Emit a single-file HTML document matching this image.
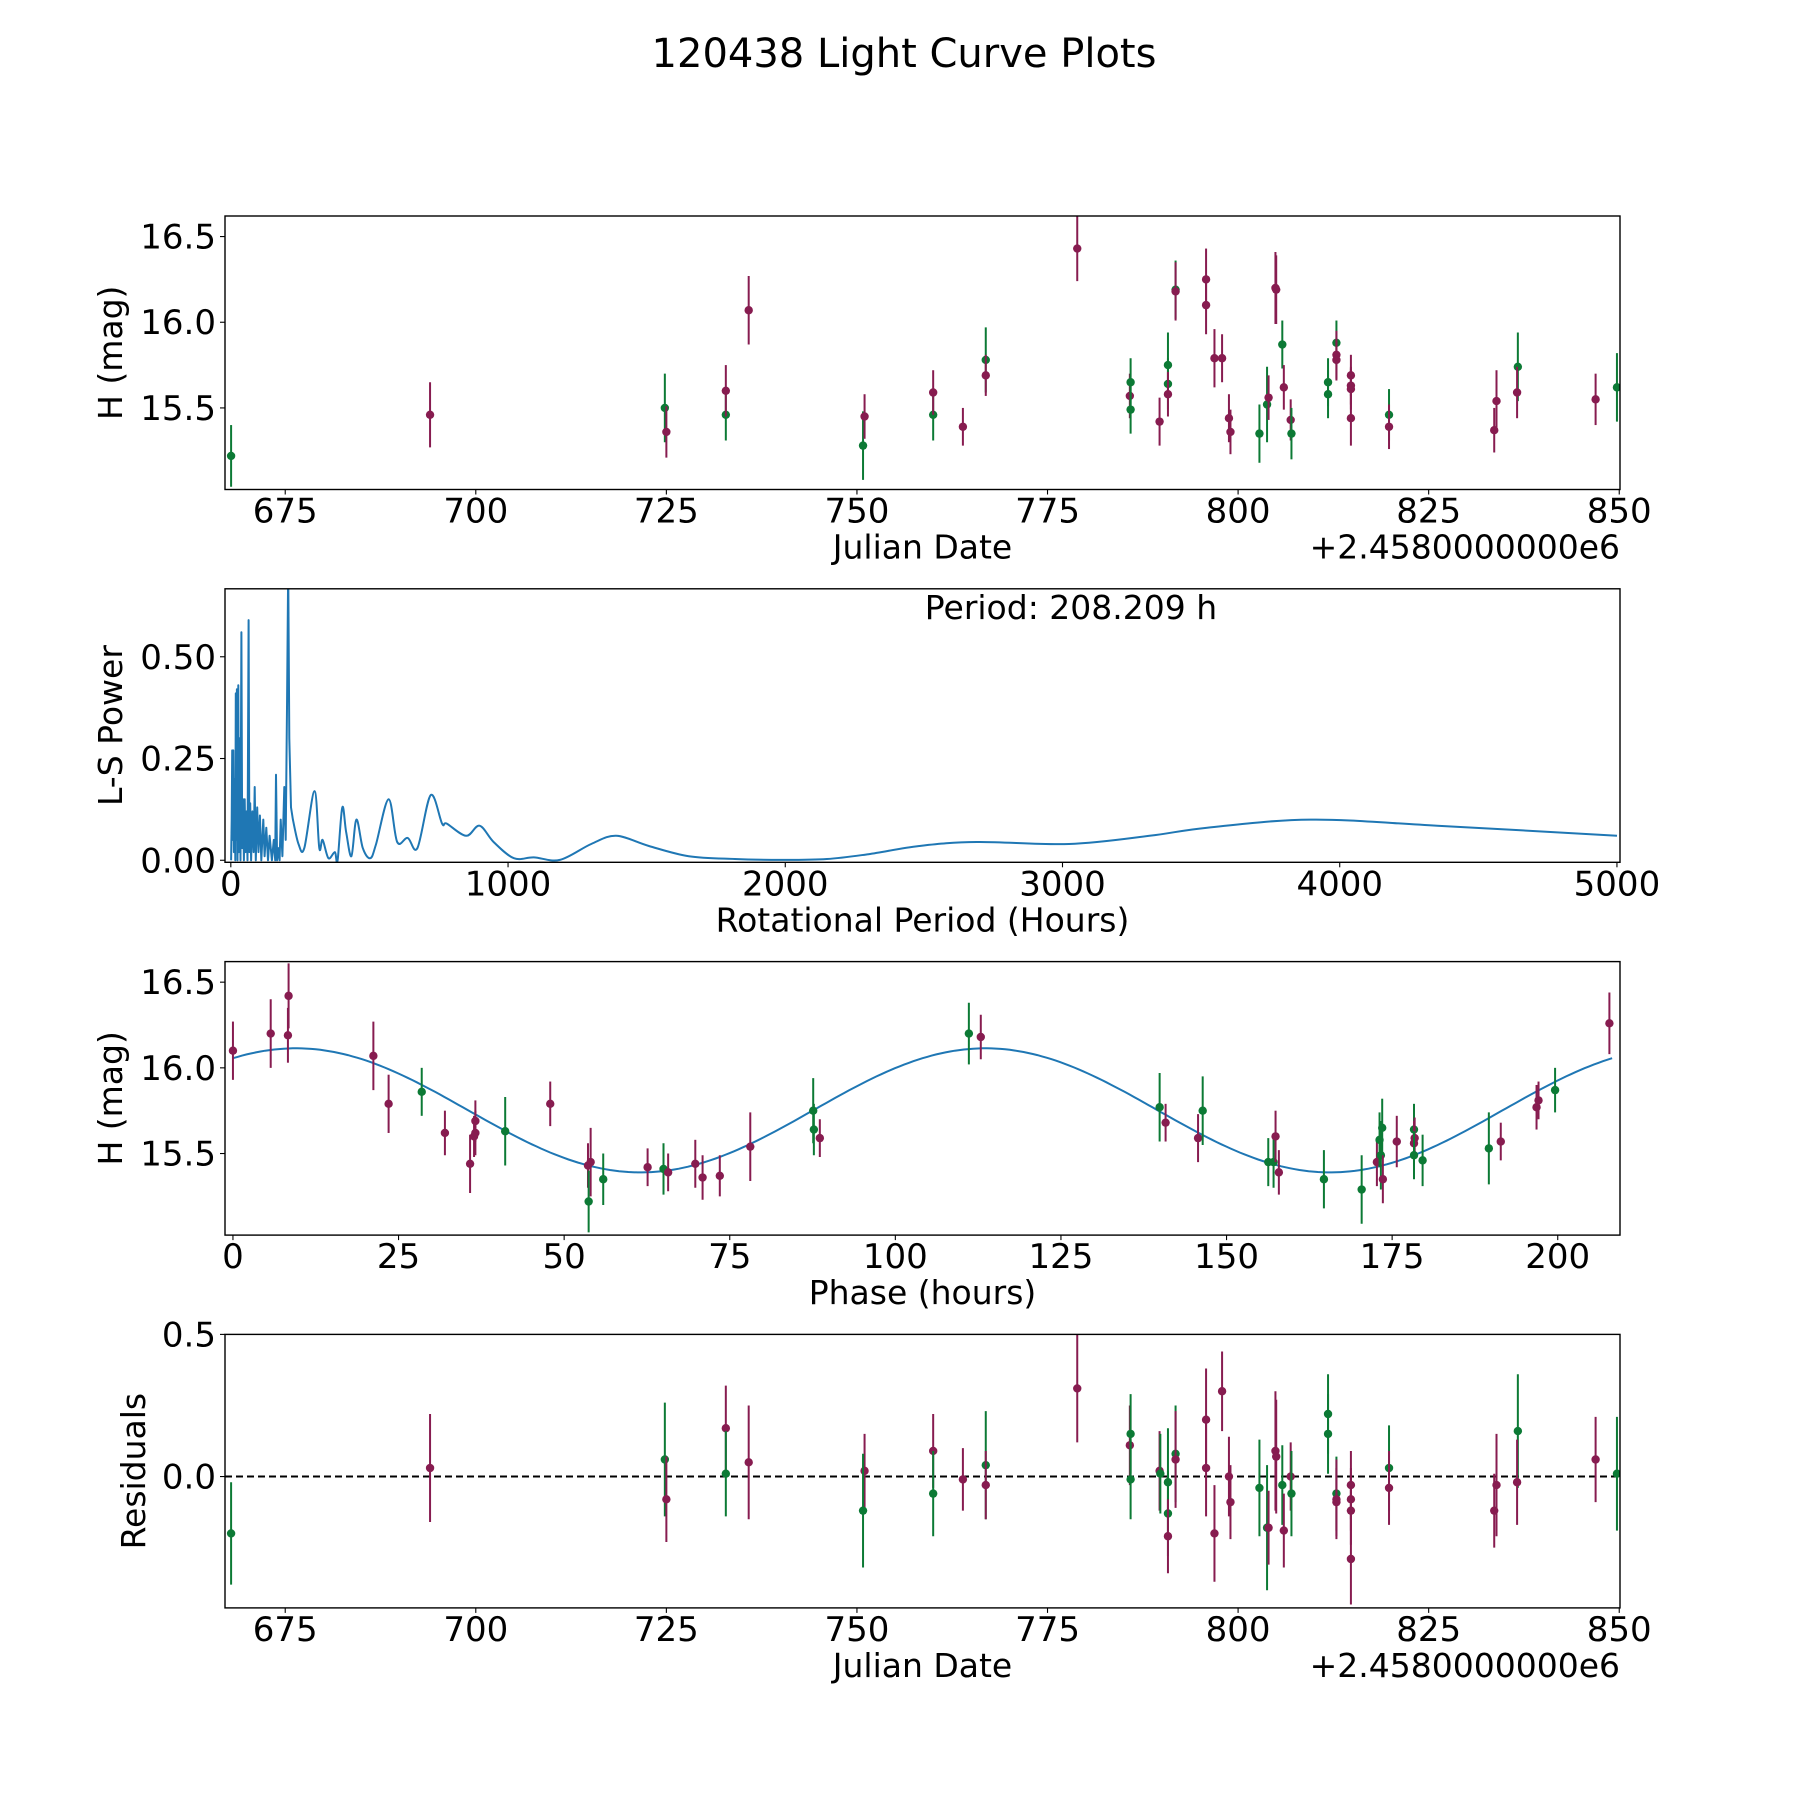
<!DOCTYPE html>
<html><head><meta charset="utf-8"><style>
html,body{margin:0;padding:0;background:#fff}
svg{display:block;font-family:"DejaVu Sans","Liberation Sans",sans-serif}
</style></head><body>
<svg id="fig" width="1800" height="1800" viewBox="0 0 1800 1800" xmlns="http://www.w3.org/2000/svg">
<rect width="1800" height="1800" fill="#fff"/>
<text x="904" y="67" font-size="40" text-anchor="middle">120438 Light Curve Plots</text>
</svg>
<script>
// ---- Data: light curve (Julian date offset, H mag, error, filter 0=purple 1=green)
const lcDates = [667.9,694.0,724.8,725.0,732.8,732.8,735.8,750.8,751.0,760.0,760.0,763.9,766.9,766.9,778.9,785.8,785.9,785.9,789.7,790.8,790.8,790.8,791.8,791.8,795.8,795.8,796.9,797.9,798.8,799.0,802.8,803.8,804.0,804.9,805.0,805.8,806.0,806.9,807.0,811.8,811.8,812.9,812.9,812.9,814.8,814.8,814.8,814.8,819.8,819.8,833.6,833.9,836.7,836.6,846.9,849.7];
const lcMags = [15.22,15.46,15.50,15.36,15.46,15.60,16.07,15.28,15.45,15.46,15.59,15.39,15.78,15.69,16.43,15.57,15.65,15.49,15.42,15.75,15.64,15.58,16.19,16.18,16.25,16.10,15.79,15.79,15.44,15.36,15.35,15.52,15.56,16.20,16.19,15.87,15.62,15.43,15.35,15.65,15.58,15.88,15.81,15.78,15.69,15.63,15.61,15.44,15.46,15.39,15.37,15.54,15.74,15.59,15.55,15.62];
const lcErrs = [0.18,0.19,0.2,0.15,0.15,0.15,0.2,0.2,0.13,0.15,0.13,0.11,0.19,0.12,0.19,0.13,0.14,0.14,0.14,0.19,0.15,0.13,0.17,0.17,0.18,0.17,0.17,0.14,0.14,0.13,0.17,0.22,0.13,0.21,0.2,0.14,0.13,0.12,0.15,0.14,0.14,0.13,0.14,0.12,0.12,0.11,0.12,0.16,0.15,0.13,0.13,0.18,0.2,0.15,0.15,0.2];
const lcFilt = [1,0,1,0,1,0,0,1,0,1,0,0,1,0,0,0,1,1,0,1,1,0,1,0,0,0,0,0,0,0,1,1,0,0,0,1,0,0,1,1,1,1,0,0,0,0,0,0,1,0,0,0,1,0,0,1];
// ---- Residuals
const resDates = [667.9,694.0,724.8,725.0,732.8,732.8,735.8,751.0,750.8,760.0,760.0,763.9,766.9,766.9,778.9,785.8,785.9,785.9,789.7,789.8,790.8,790.8,790.8,791.8,791.8,795.8,795.8,796.9,797.9,798.8,799.0,802.8,803.8,804.0,804.9,805.0,805.8,806.0,806.9,807.0,811.8,811.8,812.9,812.9,812.9,814.8,814.8,814.8,814.8,819.8,819.8,833.6,833.9,836.7,836.6,846.9,849.7];
const resVals = [-0.20,0.03,0.06,-0.08,0.17,0.01,0.05,0.02,-0.12,0.09,-0.06,-0.01,0.04,-0.03,0.31,0.11,0.15,-0.01,0.02,0.01,-0.02,-0.13,-0.21,0.08,0.06,0.20,0.03,-0.20,0.30,0.00,-0.09,-0.04,-0.18,-0.18,0.09,0.07,-0.03,-0.19,0.00,-0.06,0.22,0.15,-0.06,-0.08,-0.09,-0.03,-0.08,-0.12,-0.29,0.03,-0.04,-0.12,-0.03,0.16,-0.02,0.06,0.01];
const resErrs = [0.18,0.19,0.2,0.15,0.15,0.15,0.2,0.13,0.2,0.13,0.15,0.11,0.19,0.12,0.19,0.14,0.14,0.14,0.14,0.14,0.19,0.15,0.13,0.17,0.17,0.18,0.17,0.17,0.14,0.14,0.13,0.17,0.22,0.13,0.21,0.2,0.14,0.13,0.12,0.15,0.14,0.14,0.13,0.14,0.12,0.12,0.11,0.12,0.16,0.15,0.13,0.13,0.18,0.2,0.15,0.15,0.2];
const resFilt = [1,0,1,0,0,1,0,0,1,0,1,0,1,0,0,0,1,1,0,1,1,1,0,1,0,0,0,0,0,0,0,1,1,0,0,0,1,0,0,1,1,1,1,0,0,0,0,0,0,1,0,0,0,1,0,0,1];
// ---- Phase-folded
const phHours = [0,5.7,8.3,8.4,21.2,23.5,28.5,32.0,35.8,36.4,36.6,36.6,41.1,47.9,53.6,54.0,53.7,55.9,62.6,65.0,65.7,69.8,70.9,73.5,78.1,87.6,87.7,88.6,111.1,112.9,139.9,140.8,145.7,146.4,156.3,157.1,157.4,157.9,164.7,170.4,172.7,173.1,173.3,173.5,173.6,175.7,178.3,178.3,178.4,178.3,179.6,189.6,191.4,196.8,197.1,199.6,207.8];
const phMags = [16.10,16.20,16.19,16.42,16.07,15.79,15.86,15.62,15.44,15.60,15.62,15.69,15.63,15.79,15.43,15.45,15.22,15.35,15.42,15.41,15.39,15.44,15.36,15.37,15.54,15.75,15.64,15.59,16.20,16.18,15.77,15.68,15.59,15.75,15.45,15.45,15.60,15.39,15.35,15.29,15.45,15.58,15.49,15.65,15.35,15.57,15.64,15.56,15.59,15.49,15.46,15.53,15.57,15.77,15.81,15.87,16.26];
const phErrs = [0.17,0.2,0.16,0.19,0.2,0.17,0.14,0.13,0.17,0.12,0.13,0.12,0.2,0.13,0.13,0.2,0.18,0.15,0.11,0.15,0.11,0.14,0.13,0.12,0.2,0.19,0.15,0.11,0.18,0.13,0.2,0.11,0.14,0.2,0.14,0.15,0.15,0.13,0.17,0.2,0.14,0.16,0.2,0.17,0.14,0.15,0.15,0.13,0.12,0.14,0.15,0.21,0.11,0.13,0.11,0.13,0.18];
const phFilt = [0,0,0,0,0,0,1,0,0,0,0,0,1,0,0,0,1,1,0,1,0,0,0,0,0,1,1,0,1,0,1,0,0,1,1,1,0,0,1,1,0,1,1,1,0,0,1,0,0,1,1,1,0,0,0,1,0];
const fitMean = 15.752, fitAmp = 0.362, fitPeak = 9.5, fitPeriod = 104.1, phaseMax = 208.2;
// ---- Periodogram
const lsPeriods = [1,3,5,7,9,11,14,16,18,20,22,24,27,29,32,35,38,41,44,47,50,53,57,60,64,67,70,73,78,82,86,90,95,100,105,110,117,122,128,134,140,148,155,160,163,167,172,176,180,186,193,198,203,207,211,217,224,244,265,302,319,331,352,375,385,402,416,435,453,476,503,524,569,600,638,673,721,762,779,849,897,948,1021,1093,1187,1300,1390,1508,1652,1818,1984,2150,2300,2483,2691,3023,3314,3522,3895,4352,5000];
const lsPower = [0.0,0.1,0.27,0.05,0.27,0.02,0.2,0.0,0.41,0.05,0.42,0.0,0.43,0.02,0.3,0.0,0.56,0.03,0.15,0.0,0.15,0.02,0.12,0.0,0.59,0.02,0.14,0.0,0.12,0.02,0.18,0.0,0.13,0.02,0.11,0.0,0.1,0.01,0.08,0.0,0.06,0.0,0.05,0.0,0.21,0.0,0.03,0.0,0.1,0.01,0.18,0.05,0.4,0.72,0.3,0.13,0.10,0.04,0.03,0.17,0.03,0.05,0.005,0.02,0.0,0.13,0.07,0.01,0.10,0.03,0.005,0.04,0.15,0.045,0.055,0.03,0.16,0.09,0.09,0.06,0.085,0.045,0.005,0.007,0.001,0.04,0.06,0.035,0.01,0.003,0.001,0.003,0.015,0.035,0.045,0.04,0.06,0.08,0.10,0.085,0.06];
const jdTicks = [675,700,725,750,775,800,825,850];
const magTicks = [15.5,16.0,16.5];
const lsXTicks = [0,1000,2000,3000,4000,5000];
const lsYTicks = [0,0.25,0.5];
const phTicks = [0,25,50,75,100,125,150,175,200];
const resTicks = [0.0,0.5];

const NS='http://www.w3.org/2000/svg';
const svg=document.getElementById('fig');
const PURPLE='#871c50', GREEN='#0c7a35', BLUE='#1f77b4';
const L=225,R=1620,H=273.5,TOPS=[216,588.8,961.6,1334.4];
const TF=34, LF=33;
function mk(tag,attrs,parent){const e=document.createElementNS(NS,tag);for(const k in attrs)e.setAttribute(k,attrs[k]);(parent||svg).appendChild(e);return e;}
function lin(d0,d1,r0,r1){return v=>r0+(v-d0)*(r1-r0)/(d1-d0);}

function axes(i,xd,yd,xticks,yticks,xfmt,yfmt,xlabel,ylabel,name){
  const T=TOPS[i],B=T+H;
  const g=mk('g',{});
  
  
  const x=lin(xd[0],xd[1],L,R), y=lin(yd[0],yd[1],B,T);
  const cp=mk('clipPath',{id:'clip'+i},g);mk('rect',{x:L,y:T,width:R-L,height:H},cp);
  const plot=mk('g',{'clip-path':'url(#clip'+i+')'},g);
  
  
  xticks.forEach(v=>{const px=x(v);
    mk('line',{x1:px,x2:px,y1:B,y2:B+5,stroke:'#000','stroke-width':1.1},g);
    const tx=mk('text',{x:px,y:B+33,'font-size':TF,'text-anchor':'middle'},g);tx.textContent=xfmt(v);
    
    });
  yticks.forEach(v=>{const py=y(v);
    mk('line',{x1:L-5,x2:L,y1:py,y2:py,stroke:'#000','stroke-width':1.1},g);
    const tx=mk('text',{x:L-9,y:py+12,'font-size':TF,'text-anchor':'end'},g);tx.textContent=yfmt(v);
    
    });
  const xl=mk('text',{x:(L+R)/2,y:B+69,'font-size':LF,'text-anchor':'middle'},g);xl.textContent=xlabel;
  
  
  const yl=mk('text',{x:0,y:0,'font-size':LF,'text-anchor':'middle',transform:`translate(${ylabel[1]},${T+H/2}) rotate(-90)`},g);yl.textContent=ylabel[0];
  
  
  return {g,plot,x,y,T,B};
}
function frame(a){const r=mk('rect',{x:L,y:a.T,width:R-L,height:H,fill:'none',stroke:'#000','stroke-width':1.4},a.g);
  
  }
function errpts(a,xs,ys,es,fs){
  xs.forEach((xv,k)=>{const c=fs[k]?GREEN:PURPLE;const px=a.x(xv);
    const l=mk('line',{x1:px,x2:px,y1:a.y(ys[k]-es[k]),y2:a.y(ys[k]+es[k]),stroke:c,'stroke-width':2},a.plot);
    
    
    const d=mk('circle',{cx:px,cy:a.y(ys[k]),r:4.2,fill:c},a.plot);
    
    });
}
function offset(a){const t=mk('text',{x:R,y:a.B+69,'font-size':LF,'text-anchor':'end'},a.g);t.textContent='+2.4580000000e6';
  
  }
const f1=v=>v.toFixed(1), f0=v=>String(v), f2=v=>v.toFixed(2);

// Panel 1
const a1=axes(0,[667.1,850.1],[15.024,16.62],jdTicks,magTicks,f0,f1,'Julian Date',['H (mag)',122],'light-curve-panel');
errpts(a1,lcDates,lcMags,lcErrs,lcFilt);frame(a1);offset(a1);

// Panel 2
const a2=axes(1,[-21,5011],[-0.005,0.667],lsXTicks,lsYTicks,f0,f2,'Rotational Period (Hours)',['L-S Power',122],'periodogram-panel');
const P=lsPeriods.map((p,k)=>[a2.x(p),a2.y(lsPower[k])]);
let d='M'+P[0][0].toFixed(1)+','+P[0][1].toFixed(1);
for(let k=1;k<P.length;k++){
  if(lsPeriods[k]<=230){d+='L'+P[k][0].toFixed(1)+','+P[k][1].toFixed(1);continue;}
  const p0=P[k-2]||P[k-1],p1=P[k-1],p2=P[k],p3=P[k+1]||P[k];
  const c1=[p1[0]+(p2[0]-p0[0])/6,p1[1]+(p2[1]-p0[1])/6],c2=[p2[0]-(p3[0]-p1[0])/6,p2[1]-(p3[1]-p1[1])/6];
  d+='C'+c1[0].toFixed(1)+','+c1[1].toFixed(1)+' '+c2[0].toFixed(1)+','+c2[1].toFixed(1)+' '+p2[0].toFixed(1)+','+p2[1].toFixed(1);
}
const pl=mk('path',{d:d,fill:'none',stroke:BLUE,'stroke-width':2,'stroke-linejoin':'round'},a2.plot);


frame(a2);
const pt=mk('text',{x:1071,y:619,'font-size':LF,'text-anchor':'middle'},a2.g);pt.textContent='Period: 208.209 h';



// Panel 3
const a3=axes(2,[-1.2,209.4],[15.024,16.62],phTicks,magTicks,f0,f1,'Phase (hours)',['H (mag)',122],'phase-panel');
let dm='';for(let k=0;k<=300;k++){const p=phaseMax*k/300;const m=fitMean+fitAmp*Math.cos(2*Math.PI*(p-fitPeak)/fitPeriod);dm+=(k?'L':'M')+a3.x(p).toFixed(1)+','+a3.y(m).toFixed(1);}
const ml=mk('path',{d:dm,fill:'none',stroke:BLUE,'stroke-width':2},a3.plot);


errpts(a3,phHours,phMags,phErrs,phFilt);frame(a3);

// Panel 4
const a4=axes(3,[667.1,850.1],[-0.462,0.5],jdTicks,resTicks,f0,f1,'Julian Date',['Residuals',145],'residuals-panel');
const zl=mk('line',{x1:L,x2:R,y1:a4.y(0),y2:a4.y(0),stroke:'#000','stroke-width':2,'stroke-dasharray':'7,4'},a4.plot);


errpts(a4,resDates,resVals,resErrs,resFilt);frame(a4);offset(a4);
</script>
</body></html>
